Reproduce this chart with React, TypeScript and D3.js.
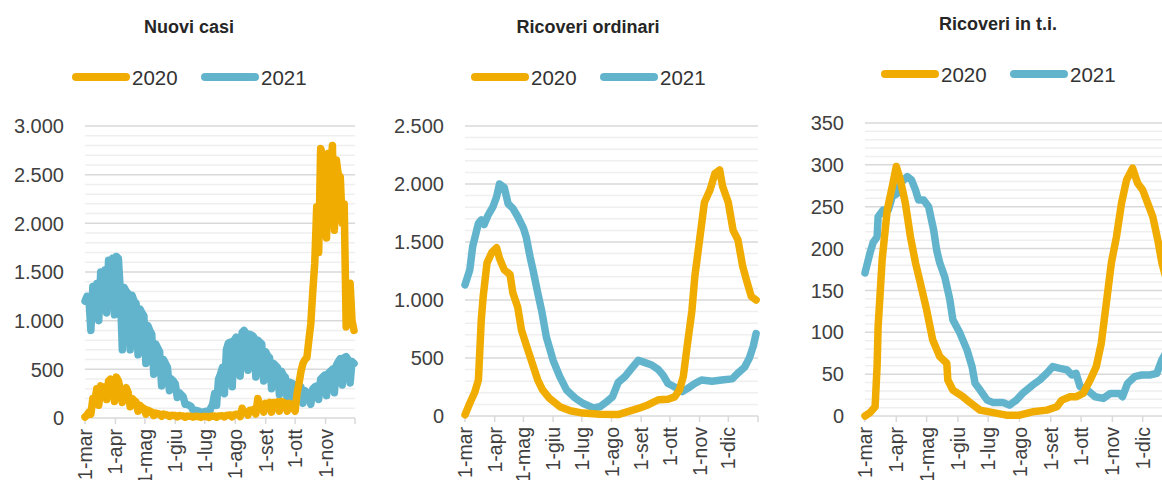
import React from 'react';
import * as d3 from 'd3';

const ORANGE = '#F0AC00';
const BLUE = '#62B4CD';
const FONT = '"Liberation Sans", Arial, sans-serif';

const seriesNames = ['2020', '2021'];
const monthLabels = ['1-mar', '1-apr', '1-mag', '1-giu', '1-lug', '1-ago', '1-set', '1-ott', '1-nov', '1-dic'];

// Nuovi casi: one value every 2 days from 1 March
const casiStep = 2;
const casi2020 = [
  10, 30, 60, 40, 200, 180, 300, 130, 330, 300, 320, 190,
  380, 400, 390, 170, 420, 380, 300, 160, 280, 310, 260, 115,
  200, 180, 165, 70, 130, 110, 100, 40, 80, 70, 60, 25,
  50, 45, 40, 18, 40, 35, 30, 15, 28, 25, 25, 10,
  25, 22, 20, 8, 20, 18, 18, 8, 18, 15, 15, 6,
  15, 15, 15, 6, 18, 18, 20, 8, 20, 22, 22, 10,
  25, 28, 30, 12, 35, 38, 40, 15, 100, 60, 55, 30,
  80, 75, 90, 40, 200, 140, 130, 60, 150, 140, 160, 60,
  160, 150, 165, 70, 170, 160, 150, 70, 150, 140, 100, 70,
  250, 360, 480, 560, 600, 620, 800, 970, 1300, 1590, 2170, 1700,
  2770, 2700, 2200, 1850, 2720, 2500, 2800, 1930, 2650, 2500, 2480, 2000,
  2200, 935, 1000, 1385, 1000, 900,
];
const casi2021 = [
  1200, 1250, 1220, 900, 1350, 1300, 1380, 1000, 1500, 1450, 1520, 1080,
  1620, 1580, 1640, 1060, 1660, 1640, 1300, 700, 1340, 1300, 1280, 700,
  1260, 1200, 1180, 650, 1120, 1080, 1050, 560, 950, 900, 860, 450,
  760, 720, 680, 330, 600, 560, 520, 280, 400, 380, 350, 210,
  260, 240, 220, 140, 140, 130, 120, 80, 80, 75, 70, 40,
  60, 65, 70, 35, 100, 140, 250, 130, 400, 450, 520, 250,
  700, 770, 780, 320, 800, 830, 820, 430, 880, 900, 870, 490,
  860, 850, 830, 420, 800, 780, 760, 380, 680, 640, 620, 300,
  560, 540, 520, 240, 480, 440, 420, 180, 370, 360, 350, 150,
  340, 330, 320, 150, 280, 260, 250, 140, 300, 320, 330, 190,
  400, 420, 440, 230, 460, 480, 500, 260, 540, 580, 610, 340,
  620, 630, 600, 360, 580, 560,
];

// Ricoveri ordinari: day offset from 1 March, value
const ordDays2020 = [0, 5, 10, 14, 17, 19, 23, 28, 33, 36, 41, 47, 50, 55, 59, 64, 70, 76, 81, 88, 99, 110, 123, 141, 160, 181, 191, 202, 212, 219, 224, 228, 232, 237, 240, 245, 250, 256, 261, 266, 269, 275, 280, 285, 290, 294, 299, 304];
const ord2020 = [10, 110, 200, 310, 830, 1030, 1320, 1410, 1450, 1360, 1260, 1220, 1060, 940, 740, 610, 460, 310, 225, 155, 80, 45, 25, 15, 12, 65, 95, 140, 145, 165, 225, 340, 600, 910, 1200, 1520, 1840, 1950, 2090, 2120, 1980, 1840, 1600, 1520, 1290, 1170, 1030, 1000];
const ordDays2021 = [0, 5, 8, 14, 17, 20, 24, 29, 33, 36, 41, 45, 50, 55, 61, 64, 68, 71, 76, 80, 85, 92, 99, 106, 115, 123, 134, 141, 149, 154, 160, 167, 174, 181, 188, 195, 202, 207, 212, 219, 227, 233, 240, 247, 258, 268, 279, 285, 292, 297, 301, 304];
const ord2021 = [1130, 1260, 1460, 1660, 1690, 1650, 1730, 1800, 1890, 2000, 1970, 1830, 1790, 1720, 1620, 1540, 1370, 1260, 1060, 910, 680, 480, 340, 225, 155, 110, 70, 80, 130, 165, 290, 340, 410, 480, 460, 440, 400, 350, 280, 250, 210, 240, 280, 310, 300, 310, 320, 370, 420, 500, 600, 710];

// Ricoveri in terapia intensiva
const tiDays2020 = [0, 5, 10, 12, 13, 17, 22, 27, 31, 35, 40, 45, 50, 54, 61, 67, 74, 81, 82, 87, 97, 104, 114, 127, 140, 153, 166, 180, 190, 195, 203, 209, 216, 223, 229, 234, 239, 244, 249, 254, 259, 265, 270, 275, 280, 285, 290, 294, 298, 305];
const ti2020 = [0, 4, 11, 60, 107, 187, 246, 274, 298, 282, 254, 214, 183, 163, 127, 91, 71, 63, 43, 31, 23, 16, 7, 4, 1, 1, 5, 7, 11, 19, 23, 23, 27, 43, 59, 87, 135, 183, 214, 254, 282, 296, 278, 270, 254, 238, 210, 183, 165, 150];
const tiDays2021 = [0, 5, 8, 12, 13, 18, 23, 27, 32, 35, 42, 46, 50, 53, 58, 63, 68, 71, 74, 79, 84, 87, 94, 101, 106, 109, 114, 121, 127, 137, 143, 150, 156, 166, 173, 180, 186, 193, 200, 205, 209, 213, 220, 228, 236, 243, 252, 255, 260, 267, 274, 282, 289, 294, 300, 305];
const ti2021 = [171, 195, 207, 214, 238, 246, 246, 262, 266, 278, 286, 282, 270, 258, 258, 250, 222, 198, 183, 166, 139, 115, 99, 79, 59, 39, 31, 19, 16, 16, 13, 19, 27, 37, 43, 51, 59, 57, 55, 49, 51, 35, 31, 23, 21, 27, 27, 23, 39, 47, 49, 49, 51, 67, 80, 95];

const fmt = d3.formatLocale({ decimal: ',', thousands: '.', grouping: [3], currency: ['€', ''] }).format(',');
const dayDate = (n: number) => new Date(2020, 2, 1 + n);

type Series = { name: string; color: string; days: number[]; values: number[] };
type Panel = {
  title: string; titleX: number; titleY: number;
  legendX: number; legendY: number;
  left: number; right: number; top: number; bottom: number;
  endMonth: number; labelCount: number;
  yMax: number; major: number; minor: number;
  series: Series[];
};

const panels: Panel[] = [
  {
    title: 'Nuovi casi', titleX: 189, titleY: 33, legendX: 72, legendY: 77,
    left: 85, right: 355, top: 126, bottom: 418, endMonth: 11, labelCount: 9,
    yMax: 3000, major: 500, minor: 100,
    series: [
      { name: seriesNames[1], color: BLUE, days: casi2021.map((_, i) => i * casiStep), values: casi2021 },
      { name: seriesNames[0], color: ORANGE, days: casi2020.map((_, i) => i * casiStep), values: casi2020 },
    ],
  },
  {
    title: 'Ricoveri ordinari', titleX: 588, titleY: 33, legendX: 471, legendY: 77,
    left: 465, right: 758, top: 126, bottom: 416, endMonth: 12, labelCount: 10,
    yMax: 2500, major: 500, minor: 100,
    series: [
      { name: seriesNames[1], color: BLUE, days: ordDays2021, values: ord2021 },
      { name: seriesNames[0], color: ORANGE, days: ordDays2020, values: ord2020 },
    ],
  },
  {
    title: 'Ricoveri in t.i.', titleX: 998, titleY: 30, legendX: 881, legendY: 74,
    left: 865, right: 1174, top: 123, bottom: 416, endMonth: 12, labelCount: 10,
    yMax: 350, major: 50, minor: 10,
    series: [
      { name: seriesNames[1], color: BLUE, days: tiDays2021, values: ti2021 },
      { name: seriesNames[0], color: ORANGE, days: tiDays2020, values: ti2020 },
    ],
  },
];

function ChartPanel({ p }: { p: Panel }) {
  const x = d3.scaleTime().domain([new Date(2020, 2, 1), new Date(2020, 2 + p.endMonth - 2, 1)]).range([p.left, p.right]);
  const y = d3.scaleLinear().domain([0, p.yMax]).range([p.bottom, p.top]);
  const majors = d3.range(0, p.yMax + 1, p.major);
  const minors = d3.range(0, p.yMax + 1, p.minor).filter((v) => v % p.major !== 0);
  const months = d3.timeMonth.range(new Date(2020, 2, 1), new Date(2020, 2 + p.endMonth - 2, 2));
  const line = d3.line<[number, number]>().x((d) => x(dayDate(d[0]))).y((d) => y(d[1]));
  const legendOrder = [p.series[1], p.series[0]];
  return (
    <g>
      <text x={p.titleX} y={p.titleY} textAnchor="middle" fontFamily={FONT} fontWeight="bold" fontSize={18} fill="#262626">{p.title}</text>
      {legendOrder.map((s, i) => {
        const lx = p.legendX + i * 129;
        return (
          <g key={s.name}>
            <line x1={lx + 4} x2={lx + 54} y1={p.legendY} y2={p.legendY} stroke={s.color} strokeWidth={8} strokeLinecap="round" />
            <text x={lx + 60} y={p.legendY + 7.5} fontFamily={FONT} fontSize={20.5} fill="#333">{s.name}</text>
          </g>
        );
      })}
      {minors.map((v) => (
        <line key={'m' + v} x1={p.left} x2={p.right} y1={y(v)} y2={y(v)} stroke="#efefef" strokeWidth={1.5} />
      ))}
      {majors.map((v) => (
        <g key={'M' + v}>
          <line x1={p.left} x2={p.right} y1={y(v)} y2={y(v)} stroke="#d9d9d9" strokeWidth={1.5} />
          <text x={p.left - 21} y={y(v)} dy="0.36em" textAnchor="end" fontFamily={FONT} fontSize={20} fill="#404040">{fmt(v)}</text>
        </g>
      ))}
      {months.map((m, i) => (
        <g key={'t' + i}>
          <line x1={x(m)} x2={x(m)} y1={p.bottom} y2={p.bottom + 6} stroke="#d9d9d9" strokeWidth={1.5} />
          {i < p.labelCount && (
            <text transform={`translate(${x(m)},${p.bottom + 11}) rotate(-90)`} dy="0.36em" textAnchor="end" fontFamily={FONT} fontSize={19.5} fill="#404040">{monthLabels[i]}</text>
          )}
        </g>
      ))}
      {p.series.map((s) => (
        <path key={s.name} d={line(s.days.map((d, i) => [d, s.values[i]] as [number, number])) || ''} fill="none" stroke={s.color} strokeWidth={7.5} strokeLinejoin="round" strokeLinecap="round" />
      ))}
    </g>
  );
}

export default function App() {
  return (
    <svg width={1162} height={480} style={{ position: 'absolute', left: 0, top: 0, background: '#fff' }}>
      <rect width={1162} height={480} fill="#fff" />
      {panels.map((p) => <ChartPanel key={p.title} p={p} />)}
    </svg>
  );
}
